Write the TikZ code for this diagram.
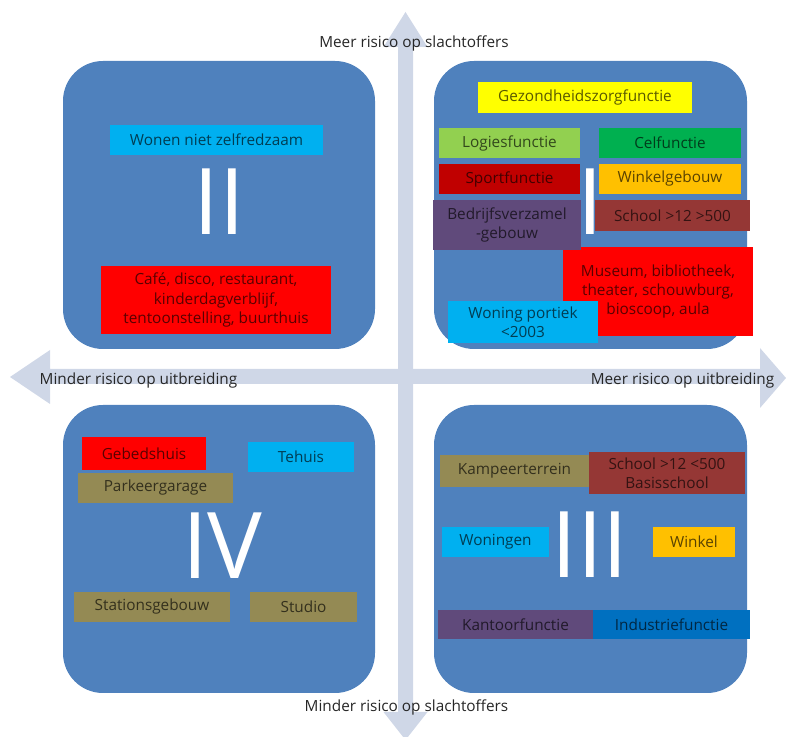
\documentclass[tikz,border=0pt]{standalone}
\usepackage{fontspec}
\setmainfont{Open Sans}
\usepackage{xcolor}
\definecolor{QuadBlue}{HTML}{4F81BD}
\definecolor{AxisGrey}{HTML}{CFD7E7}
\definecolor{FnCyan}{HTML}{00B0F0}
\definecolor{FnRed}{HTML}{FF0000}
\definecolor{FnDarkRed}{HTML}{C00000}
\definecolor{FnYellow}{HTML}{FFFF00}
\definecolor{FnLime}{HTML}{92D050}
\definecolor{FnGreen}{HTML}{00B050}
\definecolor{FnAmber}{HTML}{FFC000}
\definecolor{FnPurple}{HTML}{604A7B}
\definecolor{FnBrown}{HTML}{953735}
\definecolor{FnOlive}{HTML}{948A54}
\definecolor{FnNavy}{HTML}{0070C0}

\begin{document}
\begin{tikzpicture}[x=0.75pt,y=-0.75pt,
  fnbox/.style={rectangle,inner sep=0pt,align=center,text=black,text opacity=0.65,
    font=\fontsize{11.5}{14.6}\selectfont},
  wh/.style 2 args={minimum width=#1*0.75pt,minimum height=#2*0.75pt},
  numeral/.style={inner sep=0pt,text=white,font=\fontsize{69}{69}\selectfont},
  axislabel/.style={anchor=base,inner sep=0pt,text=black!85,font=\fontsize{11.5}{14}\selectfont}]
\useasboundingbox (0,0) rectangle (786,737);
\clip (0,0) rectangle (786,737);
% axes
\fill[AxisGrey] (398,47) -- (383.5,47) -- (405.5,12) -- (427.5,47) -- (413,47)
  -- (413,712) -- (427.5,712) -- (405.5,740) -- (383.5,712) -- (398,712) -- cycle;
\fill[AxisGrey] (50,369) -- (50,350) -- (10,377) -- (50,404) -- (50,384)
  -- (760,384) -- (760,408) -- (786,378) -- (760,348) -- (760,369) -- cycle;
% quadrants
\fill[QuadBlue,rounded corners=30pt] (63,61) rectangle (375,349);
\fill[QuadBlue,rounded corners=30pt] (434,61) rectangle (747,349);
\fill[QuadBlue,rounded corners=30pt] (63,405) rectangle (375,693);
\fill[QuadBlue,rounded corners=30pt] (434,405) rectangle (747,693);
% II
\node[numeral] (nII) at (219,202) {II};
\node[fnbox,wh={213}{30},fill=FnCyan] (wonen) at (216.5,140) {Wonen niet zelfredzaam};
\node[fnbox,wh={230}{68},fill=FnRed] (cafe) at (216,300)
  {Café, disco, restaurant,\\kinderdagverblijf,\\tentoonstelling, buurthuis};
% I
\node[numeral] (nI) at (590.5,202) {I};
\node[fnbox,wh={214}{31},fill=FnYellow] (zorg) at (585,97.5) {Gezondheidszorgfunctie};
\node[fnbox,wh={141}{30},fill=FnLime] (logies) at (509.5,143) {Logiesfunctie};
\node[fnbox,wh={142}{30},fill=FnGreen] (cel) at (670,143) {Celfunctie};
\node[fnbox,wh={141}{30},fill=FnDarkRed] (sport) at (509.5,179) {Sportfunctie};
\node[fnbox,wh={142}{30},fill=FnAmber] (winkelgeb) at (670,179) {Winkelgebouw};
\node[fnbox,wh={155}{31},fill=FnBrown] (schoolgr) at (672.5,215.5) {School >12 >500};
\node[fnbox,wh={190}{89},fill=FnRed] (museum) at (658,291.5)
  {Museum, bibliotheek,\\theater, schouwburg,\\bioscoop, aula};
\node[fnbox,wh={148}{50},fill=FnPurple] (bedrijf) at (507,225) {Bedrijfsverzamel\\-gebouw};
\node[fnbox,wh={150}{42},fill=FnCyan] (portiek) at (523,322) {Woning portiek\\<2003};
% IV
\node[numeral] (nIV) at (222.5,546) {IV};
\node[fnbox,wh={124}{33},fill=FnRed] (gebed) at (144,453.5) {Gebedshuis};
\node[fnbox,wh={106}{30},fill=FnCyan] (tehuis) at (301,457) {Tehuis};
\node[fnbox,wh={155}{30},fill=FnOlive] (parkeer) at (155.5,488) {Parkeergarage};
\node[fnbox,wh={156}{30},fill=FnOlive] (station) at (152,607) {Stationsgebouw};
\node[fnbox,wh={107}{30},fill=FnOlive] (studio) at (303.5,607) {Studio};
% III
\node[numeral] (nIII) at (590,545) {III};
\node[fnbox,wh={149}{32},fill=FnOlive] (kampeer) at (514.5,471) {Kampeerterrein};
\node[fnbox,wh={156}{42},fill=FnBrown] (schoolkl) at (667,473) {School >12 <500\\Basisschool};
\node[fnbox,wh={107}{30},fill=FnCyan] (woningen) at (495.5,542) {Woningen};
\node[fnbox,wh={82}{30},fill=FnAmber] (winkel) at (694,542) {Winkel};
\node[fnbox,wh={155}{29},fill=FnPurple] (kantoor) at (515.5,624.5) {Kantoorfunctie};
\node[fnbox,wh={157}{29},fill=FnNavy] (industrie) at (671.5,624.5) {Industriefunctie};
% axis labels
\node[axislabel] (meerslacht) at (414,48) {Meer risico op slachtoffers};
\node[axislabel] (minderslacht) at (406.5,712) {Minder risico op slachtoffers};
\node[axislabel] (minderuit) at (138.5,385) {Minder risico op uitbreiding};
\node[axislabel] (meeruit) at (682.5,385) {Meer risico op uitbreiding};
\end{tikzpicture}
\end{document}
